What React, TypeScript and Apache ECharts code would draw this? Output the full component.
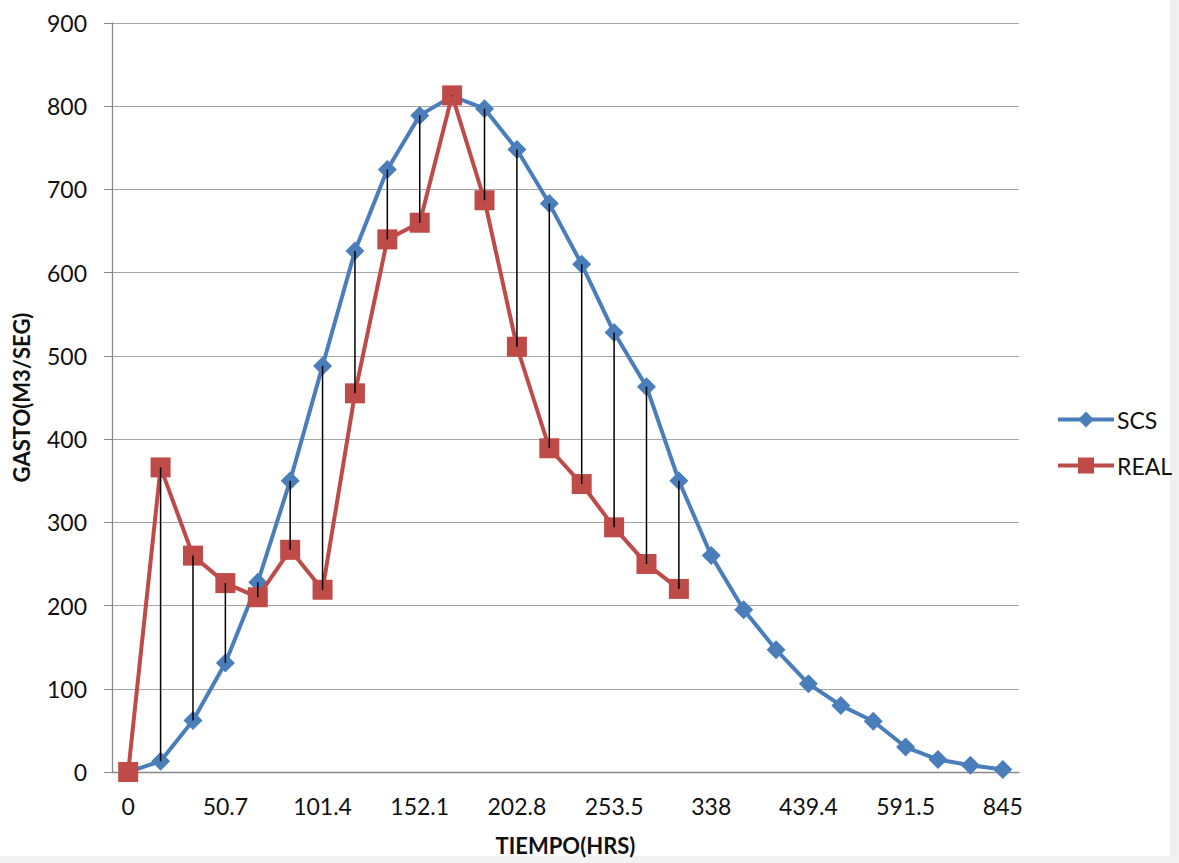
import React, { useEffect, useRef } from "react";
import * as echarts from "echarts";

const categories = ["0", "16.9", "33.8", "50.7", "67.6", "84.5", "101.4", "118.3", "135.2", "152.1", "169", "185.9", "202.8", "219.7", "236.6", "253.5", "270.4", "304.2", "338", "371.8", "405.6", "439.4", "490.1", "540.8", "591.5", "676", "760.5", "845"];
const scs = [0, 13, 62, 131, 228, 350, 488, 626, 724, 789, 812, 797, 748, 683, 610, 528, 463, 350, 260, 195, 147, 106, 80, 61, 30, 15, 8, 3];
const real = [0, 366, 260, 227, 210, 267, 219, 455, 640, 660, 813, 687, 511, 389, 346, 294, 250, 220];

const FONT = "Lato";

export default function App() {
  const ref = useRef<HTMLDivElement>(null);
  useEffect(() => {
    document.body.style.margin = "0";
    const chart = echarts.init(ref.current!, null, { renderer: "svg" });
    const hl = real.map((r, i) => [i, scs[i], r]);
    chart.setOption({
      animation: false,
      backgroundColor: "#ffffff",
      textStyle: { fontFamily: FONT },
      grid: { left: 112, right: 160, top: 23, bottom: 91, containLabel: false },
      legend: {
        orient: "vertical",
        left: 1056,
        top: 408,
        itemWidth: 56,
        itemHeight: 20,
        itemGap: 23,
        lineStyle: { width: 4 },
        padding: 0,
        textStyle: { fontFamily: FONT, fontSize: 23, color: "#111", padding: [0, 0, 0, -2] },
        data: ["SCS", "REAL"],
      },
      xAxis: {
        type: "category",
        data: categories,
        boundaryGap: true,
        name: "TIEMPO(HRS)",
        nameLocation: "middle",
        nameGap: 62,
        nameTextStyle: { fontFamily: FONT, fontWeight: "bold", fontSize: 22, color: "#111" },
        axisLine: { lineStyle: { color: "#888", width: 1.3 } },
        axisTick: { show: false },
        axisLabel: { interval: 2, margin: 22, fontFamily: FONT, fontSize: 23, color: "#111" },
      },
      yAxis: {
        type: "value",
        min: 0,
        max: 900,
        interval: 100,
        name: "GASTO(M3/SEG)",
        nameLocation: "middle",
        nameRotate: 90,
        nameGap: 80,
        nameTextStyle: { fontFamily: FONT, fontWeight: "bold", fontSize: 22, color: "#111" },
        axisLine: { show: true, lineStyle: { color: "#888", width: 1.3 } },
        axisTick: { show: true, length: 8, lineStyle: { color: "#888" } },
        axisLabel: { margin: 25, fontFamily: FONT, fontSize: 23, color: "#111" },
        splitLine: { lineStyle: { color: "#a6a6a6", width: 1.2 } },
      },
      series: [
        {
          name: "SCS",
          type: "line",
          data: scs,
          symbol: "diamond",
          symbolSize: 19,
          color: "#4a7ebb",
          lineStyle: { width: 4, color: "#4a7ebb" },
          itemStyle: { color: "#4a7ebb" },
          z: 2,
        },
        {
          name: "REAL",
          type: "line",
          data: real,
          symbol: "rect",
          symbolSize: 20,
          color: "#be4b48",
          lineStyle: { width: 4, color: "#be4b48" },
          itemStyle: { color: "#be4b48" },
          z: 3,
        },
        {
          type: "custom",
          z: 10,
          silent: true,
          data: hl,
          renderItem: (params: any, api: any) => {
            const a = api.coord([api.value(0), api.value(1)]);
            const b = api.coord([api.value(0), api.value(2)]);
            return {
              type: "line",
              shape: { x1: a[0], y1: a[1], x2: b[0], y2: b[1] },
              style: { stroke: "#000", lineWidth: 1.5 },
            };
          },
        },
      ],
      graphic: [
        { type: "rect", z: -10, shape: { x: 1170, y: 0, width: 9, height: 863 }, style: { fill: "#f0f0f0" }, silent: true },
        { type: "rect", z: -10, shape: { x: 0, y: 856, width: 1179, height: 7 }, style: { fill: "#f2f2f2" }, silent: true },
      ],
    });
    return () => chart.dispose();
  }, []);
  return <div ref={ref} style={{ width: 1179, height: 863 }} />;
}
